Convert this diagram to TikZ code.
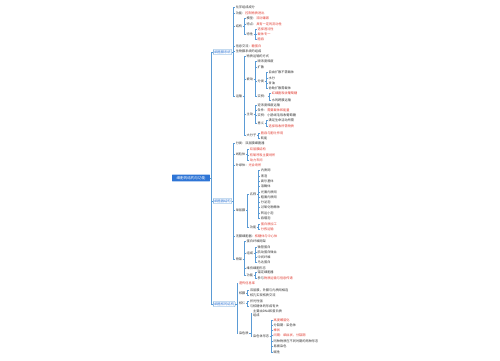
\documentclass[tikz,border=0pt]{standalone}
\usepackage{fontspec}
\setmainfont{Noto Sans CJK SC}
\usetikzlibrary{calc}

\definecolor{linkblue}{HTML}{5B9BD5}
\definecolor{rootblue}{HTML}{2E75D6}
\definecolor{hlred}{HTML}{E03A2F}
\definecolor{txtgray}{HTML}{333333}
\newcommand{\redtxt}[1]{\textcolor{hlred}{#1}}

\tikzset{
  link/.style={draw=linkblue, line width=0.5},
  leaf/.style={anchor=west, inner sep=0.6, align=left, text=txtgray,
    font=\fontsize{3.2}{3.7}\selectfont},
  leafred/.style={leaf, text=hlred},
  topic/.style={anchor=west, draw=linkblue, fill=white, rounded corners=0.6,
    inner sep=1, text=rootblue, font=\fontsize{3.3}{3.8}\selectfont},
  rootbox/.style={fill=rootblue, text=white, rounded corners=0.6,
    minimum width=38, minimum height=7, inner sep=0.5,
    font=\fontsize{3.6}{4}\selectfont}
}

\begin{document}
\begin{tikzpicture}[x=1bp,y=-1bp]
\useasboundingbox (0,0) rectangle (500,360);

\node[rootbox] (root) at (191,178) {细胞的结构与功能};

% first level
\node[topic] (memb) at ($(root.east |- 0,52)+(3,0)$) {细胞膜系统};
\node[topic] (organ) at ($(root.east |- 0,201)+(3,0)$) {细胞器结构};
\node[topic] (nucl) at ($(root.east |- 0,304)+(3,0)$) {细胞核的结构};
\foreach \n in {memb,organ,nucl}
  \draw[link] (root.east) -- ++(1.5,0) |- (\n.west);

% membrane
\foreach \t/\y [count=\i] in {化学组成成分/7, 功能：\redtxt{控制物质进出}/13, 结构/26,
    信息交流：\redtxt{糖蛋白}/46, 生物膜系统的组成/51, 运输/96}{
  \node[leaf] (memb\i) at ($(memb.east |- 0,\y)+(3,0)$) {\t};
  \draw[link] (memb.east) -- ++(1.5,0) |- (memb\i.west);
}
\foreach \t/\y [count=\i] in {模型：\redtxt{流动镶嵌}/18, 特点：\redtxt{具有一定的流动性}/24, 特性/34}{
  \node[leaf] (memb3-\i) at ($(memb3.east |- 0,\y)+(3,0)$) {\t};
  \draw[link] (memb3.east) -- ++(1.5,0) |- (memb3-\i.west);
}
\foreach \t/\y [count=\i] in {选择透过性/29, 载体专一/34, 胞吞/39}{
  \node[leafred] (memb3-3-\i) at ($(memb3-3.east |- 0,\y)+(3,0)$) {\t};
  \draw[link] (memb3-3.east) -- ++(1.5,0) |- (memb3-3-\i.west);
}
\foreach \t/\y [count=\i] in {物质运输的方式/56, 被动/79, 主动/114, 大分子/135}{
  \node[leaf] (memb6-\i) at ($(memb6.east |- 0,\y)+(3,0)$) {\t};
  \draw[link] (memb6.east) -- ++(1.5,0) |- (memb6-\i.west);
}
\foreach \t/\y [count=\i] in {顺浓度梯度/61, 扩散/67, 分类/81, 实例：/96}{
  \node[leaf] (memb6-2-\i) at ($(memb6-2.east |- 0,\y)+(3,0)$) {\t};
  \draw[link] (memb6-2.east) -- ++(1.5,0) |- (memb6-2-\i.west);
}
\foreach \t/\y [count=\i] in {自由扩散不需载体/72, 水分/78, 甘油/83, 协助扩散需载体/88}{
  \node[leaf] (memb6-2-3-\i) at ($(memb6-2-3.east |- 0,\y)+(3,0)$) {\t};
  \draw[link] (memb6-2-3.east) -- ++(1.5,0) |- (memb6-2-3-\i.west);
}
\foreach \t/\y [count=\i] in {\redtxt{红细胞吸收葡萄糖}/93, 水的跨膜运输/100}{
  \node[leaf] (memb6-2-4-\i) at ($(memb6-2-4.east |- 0,\y)+(3,0)$) {\t};
  \draw[link] (memb6-2-4.east) -- ++(1.5,0) |- (memb6-2-4-\i.west);
}
\foreach \t/\y [count=\i] in {逆浓度梯度运输/105, 条件：\redtxt{需要载体和能量}/110,
    实例：小肠绒毛吸收葡萄糖/115, 意义/123}{
  \node[leaf] (memb6-3-\i) at ($(memb6-3.east |- 0,\y)+(3,0)$) {\t};
  \draw[link] (memb6-3.east) -- ++(1.5,0) |- (memb6-3-\i.west);
}
\foreach \t/\y [count=\i] in {满足生命活动所需/120, \redtxt{选择吸收所需物质}/126}{
  \node[leaf] (memb6-3-4-\i) at ($(memb6-3-4.east |- 0,\y)+(3,0)$) {\t};
  \draw[link] (memb6-3-4.east) -- ++(1.5,0) |- (memb6-3-4-\i.west);
}
\foreach \t/\y [count=\i] in {\redtxt{胞吞与胞吐作用}/133, 耗能/138}{
  \node[leaf] (memb6-4-\i) at ($(memb6-4.east |- 0,\y)+(3,0)$) {\t};
  \draw[link] (memb6-4.east) -- ++(1.5,0) |- (memb6-4-\i.west);
}

% organelles
\foreach \t/\y [count=\i] in {分类：双层膜细胞器/143, 线粒体/154, 叶绿体：\redtxt{光合场所}/165,
    单层膜/210, 无膜细胞器：\redtxt{核糖体与中心体}/236, 骨架/259}{
  \node[leaf] (organ\i) at ($(organ.east |- 0,\y)+(3,0)$) {\t};
  \draw[link] (organ.east) -- ++(1.5,0) |- (organ\i.west);
}
\foreach \t/\y [count=\i] in {双层膜结构/149, 有氧呼吸主要场所/155, 动力车间/160}{
  \node[leafred] (organ2-\i) at ($(organ2.east |- 0,\y)+(3,0)$) {\t};
  \draw[link] (organ2.east) -- ++(1.5,0) |- (organ2-\i.west);
}
\foreach \t/\y [count=\i] in {名称/194, 功能/227}{
  \node[leaf] (organ4-\i) at ($(organ4.east |- 0,\y)+(3,0)$) {\t};
  \draw[link] (organ4.east) -- ++(1.5,0) |- (organ4-\i.west);
}
\foreach \t/\y [count=\i] in {内质网/170, 液泡/176, 高尔基体/181, 溶酶体/186, 光面内质网/192,
    粗面内质网/197, 分泌泡/202, 过氧化物酶体/207, 转运小泡/213, 吞噬泡/218}{
  \node[leaf] (organ4-1-\i) at ($(organ4-1.east |- 0,\y)+(3,0)$) {\t};
  \draw[link] (organ4-1.east) -- ++(1.5,0) |- (organ4-1-\i.west);
}
\foreach \t/\y [count=\i] in {蛋白质加工/224, 分拣运输/229}{
  \node[leafred] (organ4-2-\i) at ($(organ4-2.east |- 0,\y)+(3,0)$) {\t};
  \draw[link] (organ4-2.east) -- ++(1.5,0) |- (organ4-2-\i.west);
}
\foreach \t/\y [count=\i] in {蛋白纤维网架/241, 组成/253, 维持细胞形态/268, 功能/275}{
  \node[leaf] (organ6-\i) at ($(organ6.east |- 0,\y)+(3,0)$) {\t};
  \draw[link] (organ6.east) -- ++(1.5,0) |- (organ6-\i.west);
}
\foreach \t/\y [count=\i] in {微管蛋白/247, 肌动蛋白微丝/252, 中间纤维/257, 马达蛋白/262}{
  \node[leaf] (organ6-2-\i) at ($(organ6-2.east |- 0,\y)+(3,0)$) {\t};
  \draw[link] (organ6-2.east) -- ++(1.5,0) |- (organ6-2-\i.west);
}
\foreach \t/\y [count=\i] in {锚定细胞器/272, 参与\redtxt{物质运输与信息传递}/278}{
  \node[leaf] (organ6-4-\i) at ($(organ6-4.east |- 0,\y)+(3,0)$) {\t};
  \draw[link] (organ6-4.east) -- ++(1.5,0) |- (organ6-4-\i.west);
}

% nucleus
\foreach \t/\y [count=\i] in {\redtxt{遗传信息库}/283, 核膜/293, 核仁/303, 染色质/333}{
  \node[leaf] (nucl\i) at ($(nucl.east |- 0,\y)+(3,0)$) {\t};
  \draw[link] (nucl.east) -- ++(1.5,0) |- (nucl\i.west);
}
\foreach \t/\y [count=\i] in {双层膜，外膜与内质网相连/290, 核孔实现核质交流/295}{
  \node[leaf] (nucl2-\i) at ($(nucl2.east |- 0,\y)+(3,0)$) {\t};
  \draw[link] (nucl2.east) -- ++(1.5,0) |- (nucl2-\i.west);
}
\foreach \t/\y [count=\i] in {折光性强/301, 与核糖体的形成有关/306}{
  \node[leaf] (nucl3-\i) at ($(nucl3.east |- 0,\y)+(3,0)$) {\t};
  \draw[link] (nucl3.east) -- ++(1.5,0) |- (nucl3-\i.west);
}
\node[leaf] (nucl4-1) at ($(nucl4.east |- 0,313)+(3,0)$) {主要由DNA和蛋白质\\组成};
\node[leaf] (nucl4-2) at ($(nucl4.east |- 0,336)+(3,0)$) {染色体形态};
\foreach \n in {nucl4-1,nucl4-2}
  \draw[link] (nucl4.east) -- ++(1.5,0) |- (\n.west);
\foreach \t/\y [count=\i] in {\redtxt{高度螺旋化}/320, 分裂期：染色体/325, \redtxt{棒状}/330,
    \redtxt{间期：细丝状，分裂期}/335, 同种物质在不同时期的两种形态/341, 易被染色/346, 碱性/352}{
  \node[leaf] (nucl4-2-\i) at ($(nucl4-2.east |- 0,\y)+(3,0)$) {\t};
  \draw[link] (nucl4-2.east) -- ++(1.5,0) |- (nucl4-2-\i.west);
}
\end{tikzpicture}
\end{document}
